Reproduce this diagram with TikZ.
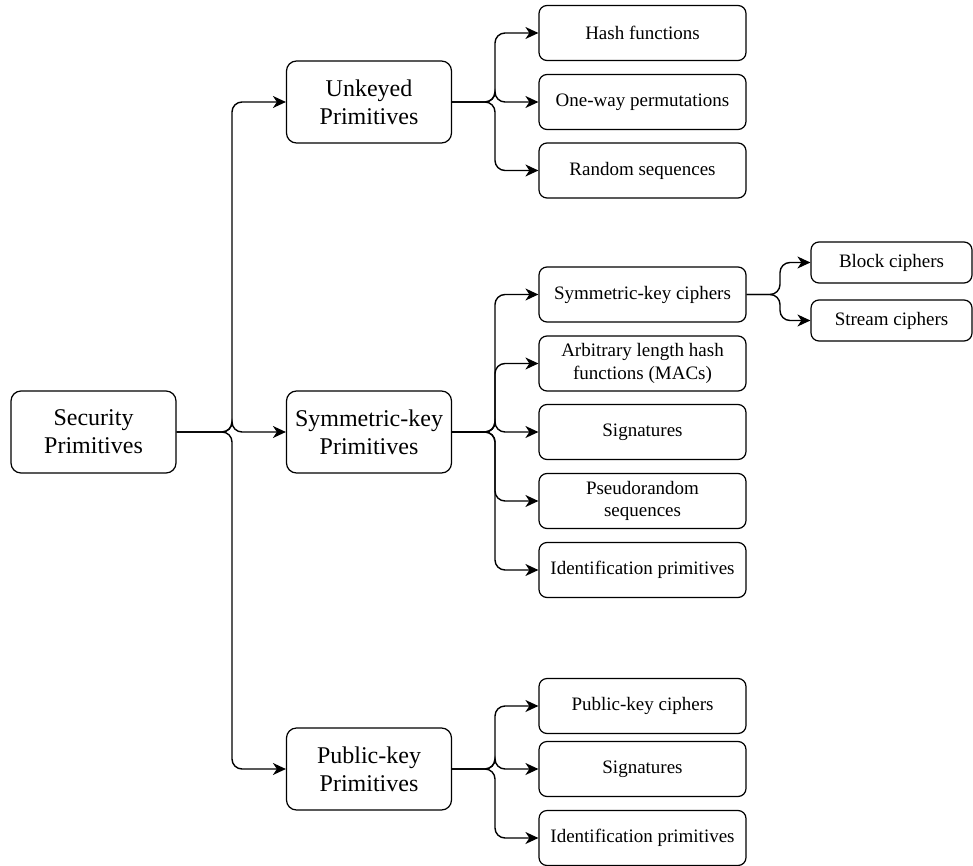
\documentclass[tikz,border=0pt]{standalone}
\usepackage{fontspec}
\setmainfont{Liberation Serif}
\usetikzlibrary{arrows.meta}
\begin{document}
\begin{tikzpicture}[x=1pt,y=-1pt,
  bigbox/.style={draw, line width=1.2pt, rounded corners=10pt, minimum width=165pt, minimum height=82pt, inner sep=0pt, align=center, font=\fontsize{24}{28}\selectfont},
  smallbox/.style={draw, line width=1.2pt, rounded corners=8pt, minimum width=207pt, minimum height=55pt, inner sep=0pt, align=center, font=\fontsize{19}{22.5}\selectfont},
  leafbox/.style={draw, line width=1.2pt, rounded corners=8pt, minimum width=161pt, minimum height=41pt, inner sep=0pt, align=center, font=\fontsize{19}{22.5}\selectfont},
  conn/.style={line width=1.4pt, rounded corners=10pt, -{Stealth[length=13pt,width=12pt,inset=4pt]}}
]
\useasboundingbox (0,0) rectangle (973,866);

\node[bigbox] (sec) at (93.5,432) {Security\\Primitives};
\node[bigbox] (unk) at (369,102) {Unkeyed\\Primitives};
\node[bigbox] (sym) at (369,432) {Symmetric-key\\Primitives};
\node[bigbox] (pub) at (369,769) {Public-key\\Primitives};

\node[smallbox] (hash) at (642.5,33) {Hash functions};
\node[smallbox] (owp) at (642.5,102) {One-way permutations};
\node[smallbox] (rnd) at (642.5,170.5) {Random sequences};

\node[smallbox] (skc) at (642.5,294.5) {Symmetric-key ciphers};
\node[smallbox] (arb) at (642.5,363.5) {Arbitrary length hash\\functions (MACs)};
\node[smallbox] (sig1) at (642.5,432) {Signatures};
\node[smallbox] (prs) at (642.5,501) {Pseudorandom\\sequences};
\node[smallbox] (id1) at (642.5,570) {Identification primitives};

\node[smallbox] (pkc) at (642.5,706) {Public-key ciphers};
\node[smallbox] (sig2) at (642.5,769) {Signatures};
\node[smallbox] (id2) at (642.5,838) {Identification primitives};

\node[leafbox] (blk) at (891.5,262.5) {Block ciphers};
\node[leafbox] (str) at (891.5,320.5) {Stream ciphers};

\coordinate (b0) at (232,0);
\coordinate (b1) at (495,0);
\coordinate (b2) at (780,0);

\foreach \c in {unk,sym,pub}
  \draw[conn] (sec.east) -- (sec.east -| b0) |- (\c.west);
\foreach \c in {hash,owp,rnd}
  \draw[conn] (unk.east) -- (unk.east -| b1) |- (\c.west);
\foreach \c in {skc,arb,sig1,prs,id1}
  \draw[conn] (sym.east) -- (sym.east -| b1) |- (\c.west);
\foreach \c in {pkc,sig2,id2}
  \draw[conn] (pub.east) -- (pub.east -| b1) |- (\c.west);
\foreach \c in {blk,str}
  \draw[conn] (skc.east) -- (skc.east -| b2) |- (\c.west);
\end{tikzpicture}
\end{document}
